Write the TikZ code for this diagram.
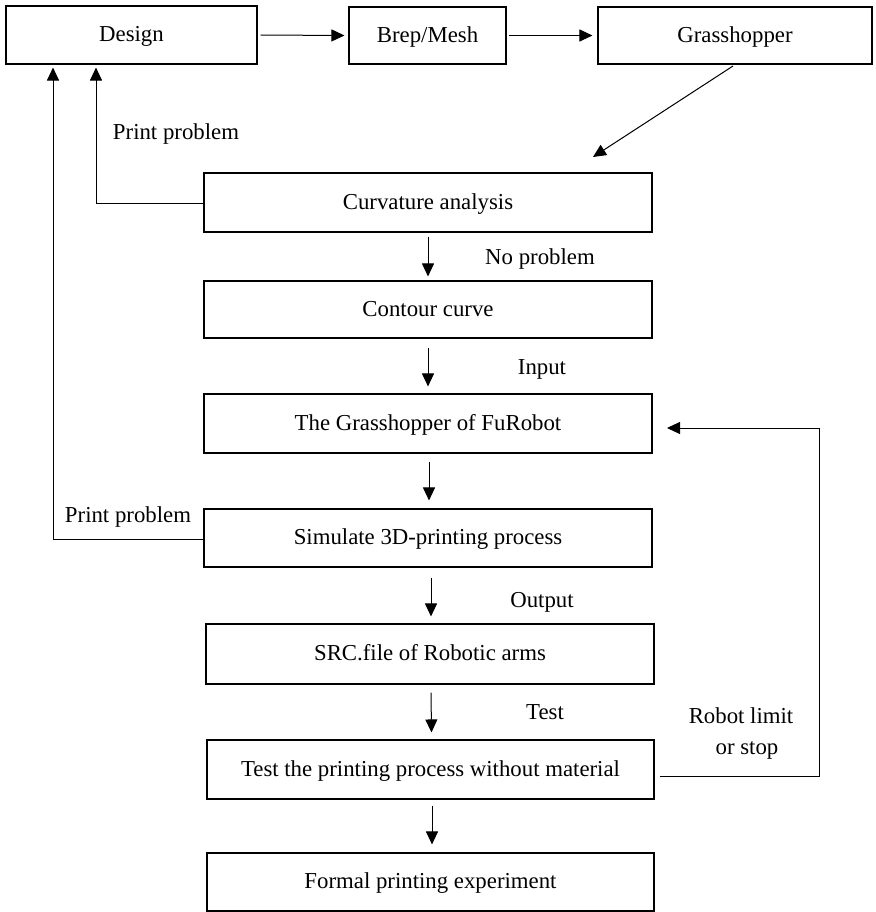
\documentclass[tikz,border=0pt]{standalone}
\usepackage{fontspec}
\setmainfont{Liberation Serif}
\usetikzlibrary{arrows.meta}
\begin{document}
\begin{tikzpicture}[x=1pt,y=-1pt,
  font=\fontsize{22.8}{31}\selectfont,
  every node/.style={text height=13.5pt,text depth=0pt},
  box/.style={draw=black,line width=1.1pt,inner sep=0pt,anchor=center},
  wide/.style={box,minimum width=448pt,minimum height=58pt},
  arr/.style={draw=black,line width=1pt,-{Triangle[length=13pt,width=12pt]}},
  lbl/.style={inner sep=0pt,anchor=center}]
\useasboundingbox (0,0) rectangle (875,912);
% top row
\node[box,minimum width=251pt,minimum height=58pt] (design) at (131.5,35) {Design};
\node[box,minimum width=157pt,minimum height=57pt] (brep) at (427.5,35.5) {Brep/Mesh};
\node[box,minimum width=274pt,minimum height=57pt] (gh) at (735,35.5) {Grasshopper};
% main column
\node[wide,minimum height=59pt] (curv) at (428,202.5) {Curvature analysis};
\node[wide,minimum height=57pt] (contour) at (428,309.5) {Contour curve};
\node[wide,minimum height=59pt] (furobot) at (428,423.5) {The Grasshopper of FuRobot};
\node[wide] (sim) at (428,538) {Simulate 3D-printing process};
\node[wide,minimum height=60pt] (src) at (430,654) {SRC.file of Robotic arms};
\node[wide,minimum width=447pt,minimum height=59pt] (test) at (430.5,769.5) {Test the printing process without material};
\node[wide,minimum width=447pt] (formal) at (430.5,882) {Formal printing experiment};
% labels
\node[lbl] (lpp1) at (176,133) {Print problem};
\node[lbl] (lpp2) at (128,516) {Print problem};
\node[lbl] (lnp) at (540,258) {No problem};
\node[lbl] (lin) at (542,368) {Input};
\node[lbl] (lout) at (542,601) {Output};
\node[lbl] (ltest) at (545,713) {Test};
\node[lbl] (lrob1) at (741,717) {Robot limit};
\node[lbl] (lrob2) at (747,748) {or stop};
% coordinates for the diagonal connector
\coordinate (gstart) at (733,66);
\coordinate (gend) at (593,157);
% connectors (yshift is in page direction: positive = upward)
\draw[arr] ([xshift=3pt]design.east) -- ([xshift=-4pt]brep.west);
\draw[arr] ([xshift=2pt]brep.east) -- ([xshift=-5pt]gh.west);
\draw[arr] (gstart) -- (gend);
\draw[arr] (curv.west |- 0,203) -- (96,203) -- ([xshift=-35.5pt,yshift=-3pt]design.south);
\draw[arr] (sim.west |- 0,539) -- (53,539) -- ([xshift=-78.5pt,yshift=-3pt]design.south);
\draw[arr] ([xshift=5pt]test.east |- 0,776) -- (819,776) -- (819,428) -- (667,428);
\draw[arr] ([yshift=-4pt]curv.south) -- ([yshift=4pt]contour.north);
\draw[arr] ([yshift=-9pt]contour.south) -- ([yshift=7pt]furobot.north);
\draw[arr] ([xshift=1pt,yshift=-8pt]furobot.south) -- ([xshift=1pt,yshift=8pt]sim.north);
\draw[arr] ([xshift=3pt,yshift=-10pt]sim.south) -- ([xshift=1pt,yshift=7pt]src.north);
\draw[arr] ([xshift=1pt,yshift=-8pt]src.south) -- ([xshift=1pt,yshift=7pt]test.north);
\draw[arr] ([xshift=1.5pt,yshift=-6pt]test.south) -- ([xshift=1.5pt,yshift=8pt]formal.north);
\end{tikzpicture}
\end{document}
